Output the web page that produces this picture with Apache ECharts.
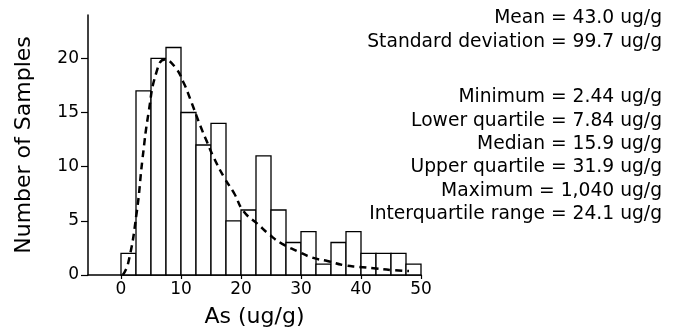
<!DOCTYPE html>
<html>
<head>
<meta charset="utf-8">
<script src="https://cdn.jsdelivr.net/npm/echarts@6/dist/echarts.min.js"></script>
<style>
html,body{margin:0;padding:0;background:#fff;}
#chart{width:686px;height:333px;}
</style>
</head>
<body>
<div id="chart"></div>
<script>
// Histogram bin edges (ug/g) and counts
const binEdges = [0,2.5,5,7.5,10,12.5,15,17.5,20,22.5,25,27.5,30,32.5,35,37.5,40,42.5,45,47.5,50];
const binCounts = [2,17,20,21,15,12,14,5,6,11,6,3,4,1,3,4,2,2,2,1];
// Fitted curve (dashed)
const curveX = [0.3,1.2,2.6,3.6,4.6,5.9,7.3,9.0,10.4,11.5,13.2,14.4,15.5,17.2,18.9,20.4,22.8,24.8,26.8,29.4,31.9,34.4,37.2,39.7,42.5,45.3,48.0];
const curveY = [0.0,1.1,5.7,10.8,15.0,18.7,19.9,19.2,17.8,16.3,13.8,12.2,10.8,9.0,7.5,5.9,4.7,3.7,2.9,2.2,1.6,1.3,0.9,0.75,0.6,0.45,0.36];
const xTickValues = [0,10,20,30,40,50];
const yTickValues = [0,5,10,15,20];
const statsLines = [
  "Mean = 43.0 ug/g",
  "Standard deviation = 99.7 ug/g",
  "",
  "Minimum = 2.44 ug/g",
  "Lower quartile = 7.84 ug/g",
  "Median = 15.9 ug/g",
  "Upper quartile = 31.9 ug/g",
  "Maximum = 1,040 ug/g",
  "Interquartile range = 24.1 ug/g"
];
const xTitle = "As (ug/g)";
const yTitle = "Number of Samples";

const FONT = "DejaVu Sans";
const chart = echarts.init(document.getElementById('chart'), null, {renderer:'canvas'});

const histData = binCounts.map((c,i)=>[binEdges[i], binEdges[i+1], c]);
const curveData = curveX.map((x,i)=>[x, curveY[i]]);

// stats text positions
const statY = [18, 42, 0, 97, 121, 144, 167, 191, 214];
const graphics = [];
statsLines.forEach((t,i)=>{
  if(!t) return;
  graphics.push({
    type:'text', x: 662, y: statY[i],
    style:{text:t, fill:'#000', font:'18.7px "'+FONT+'"', textAlign:'right', textVerticalAlign:'middle'}
  });
});

chart.setOption({
  animation:false,
  backgroundColor:'#fff',
  grid:{left:88, right:265, top:15, bottom:54},
  xAxis:{
    type:'value', min:-5.5, max:50,
    name:xTitle, nameLocation:'middle', nameGap:31,
    nameTextStyle:{color:'#000', fontSize:22, fontFamily:FONT},
    axisLine:{show:true, onZero:false, lineStyle:{color:'#000', width:1.5}},
    axisTick:{show:true, length:4, customValues:xTickValues, lineStyle:{color:'#000', width:1.2}},
    axisLabel:{show:true, customValues:xTickValues, color:'#000', fontSize:17, fontFamily:FONT, margin:6},
    splitLine:{show:false}
  },
  yAxis:{
    type:'value', min:0, max:24,
    name:yTitle, nameLocation:'middle', nameGap:53, nameRotate:90,
    nameTextStyle:{color:'#000', fontSize:22, fontFamily:FONT},
    axisLine:{show:true, onZero:false, lineStyle:{color:'#000', width:1.5}},
    axisTick:{show:true, length:7, customValues:yTickValues, lineStyle:{color:'#000', width:1.2}},
    axisLabel:{show:true, customValues:yTickValues, color:'#000', fontSize:17, fontFamily:FONT, margin:9},
    splitLine:{show:false}
  },
  series:[
    {
      type:'custom',
      data:histData,
      encode:{x:[0,1], y:2},
      renderItem:function(params, api){
        const p0 = api.coord([api.value(0), api.value(2)]);
        const p1 = api.coord([api.value(1), 0]);
        return {
          type:'rect',
          shape:{x:p0[0], y:p0[1], width:p1[0]-p0[0], height:p1[1]-p0[1]},
          style:{fill:'#fff', stroke:'#000', lineWidth:1.3}
        };
      },
      z:2
    },
    {
      type:'line',
      data:curveData,
      smooth:true,
      showSymbol:false,
      lineStyle:{color:'#000', width:2.5, type:[7,5]},
      z:3
    }
  ],
  graphic:graphics
});
</script>
</body>
</html>
